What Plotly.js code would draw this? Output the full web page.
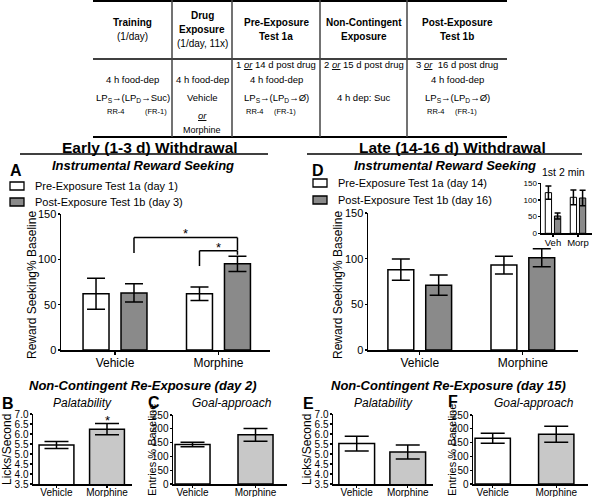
<!DOCTYPE html>
<html>
<head>
<meta charset="utf-8">
<script src="https://cdn.plot.ly/plotly-3.0.1.min.js"></script>
<style>html,body{margin:0;padding:0;background:#fff;}#chart{width:600px;height:497px;}</style>
</head>
<body>
<div id="chart"></div>
<script>
// ---------------- DATA ----------------
const groups = ['Vehicle', 'Morphine'];
const earlyPre = [62, 62];
const earlyPreErr = [17, 7.5];
const earlyPost = [63, 95];
const earlyPostErr = [10, 8.5];
const latePre = [88, 93];
const latePreErr = [11.5, 9.7];
const latePost = [71, 101];
const latePostErr = [11, 9.8];
const insetCats = ['Veh', 'Morp'];
const insetPre = [122, 108];
const insetPreErr = [20, 22];
const insetPost = [52, 106];
const insetPostErr = [9, 23];
const palEarly = [5.45, 6.24];
const palEarlyErr = [0.17, 0.28];
const goalEarly = [143, 178];
const goalEarlyErr = [8, 23];
const palLate = [5.52, 5.1];
const palLateErr = [0.37, 0.35];
const goalLate = [166, 180];
const goalLateErr = [18, 29];
// significance bracket levels (data units, panel A)
const sigBigY = [107, 124, 110];
const sigSmallY = [92.6, 109.5, 105];

// ---------------- LAYOUT HELPERS ----------------
const W = 600, H = 497;
const FONT = 'Liberation Sans, Arial, sans-serif';
const px = x => x / W;
const py = y => 1 - y / H;
const dx = (a, b) => [px(a), px(b)];
const dy = (top, bottom) => [py(bottom), py(top)];

const WHITE = '#ffffff', DARK = '#8a8a8a', LIGHT = '#c8c8c8';
const BARGAP = 0.266, BARGROUPGAP = 0.316;
const OFF = (1 - BARGAP) / 4; // centre offset of each bar in a 2-trace group

function xax(domain, range, fs, extra) {
  return Object.assign({
    domain: domain, range: range, type: 'category', showline: true, linecolor: '#000', linewidth: 1.5,
    ticks: 'outside', ticklen: 3, tickwidth: 1.2, tickcolor: '#000', showgrid: false, zeroline: false,
    tickfont: {family: FONT, size: fs, color: '#000'}, fixedrange: true
  }, extra || {});
}
function yax(domain, range, dtick, fs, extra) {
  return Object.assign({
    domain: domain, range: range, dtick: dtick, tick0: range[0], showline: true, linecolor: '#000', linewidth: 1.5,
    ticks: 'outside', ticklen: 2, tickwidth: 1.2, tickcolor: '#000', showgrid: false, zeroline: false,
    ticklabelstandoff: -1,
    tickfont: {family: FONT, size: fs, color: '#000'}, fixedrange: true
  }, extra || {});
}
function bar(x, y, err, color, xa, ya, errW, lw) {
  return {
    type: 'bar', x: x, y: y, xaxis: xa, yaxis: ya,
    marker: {color: color, line: {color: '#000', width: lw || 1.5}},
    error_y: {type: 'data', array: err, visible: true, color: '#000', thickness: 1.5, width: errW},
    showlegend: false, hoverinfo: 'skip'
  };
}
function single(x, y, err, xa, ya, width) {
  const t = bar(x, y, err, [WHITE, LIGHT], xa, ya, 12);
  t.width = width;
  return t;
}

const traces = [
  bar(groups, earlyPre, earlyPreErr, WHITE, 'x', 'y', 9),
  bar(groups, earlyPost, earlyPostErr, DARK, 'x', 'y', 9),
  bar(groups, latePre, latePreErr, WHITE, 'x2', 'y2', 9),
  bar(groups, latePost, latePostErr, DARK, 'x2', 'y2', 9),
  bar(insetCats, insetPre, insetPreErr, WHITE, 'x3', 'y3', 3, 1),
  bar(insetCats, insetPost, insetPostErr, DARK, 'x3', 'y3', 3, 1),
  single(groups, palEarly, palEarlyErr, 'x4', 'y4', 0.69),
  single(groups, goalEarly, goalEarlyErr, 'x5', 'y5', 0.556),
  single(groups, palLate, palLateErr, 'x6', 'y6', 0.7),
  single(groups, goalLate, goalLateErr, 'x7', 'y7', 0.556)
];

// ---------------- ANNOTATIONS ----------------
const ann = [];
function txt(x, y, text, size, opts) {
  ann.push(Object.assign({
    xref: 'paper', yref: 'paper', x: px(x), y: py(y), text: text, showarrow: false,
    xanchor: 'center', yanchor: 'middle', font: {family: FONT, size: size, color: '#000'}
  }, opts || {}));
}
// table header
const c1 = 132.5, c2 = 202, c3 = 276, c4 = 363.5, c5 = 457;
txt(c1, 23, '<b>Training</b>', 10); txt(c1, 36, '(1/day)', 10);
txt(c2, 16, '<b>Drug</b>', 10); txt(c2, 29, '<b>Exposure</b>', 10); txt(c2, 43, '(1/day, 11x)', 10);
txt(c3, 23, '<b>Pre-Exposure</b>', 10); txt(c3, 36, '<b>Test 1a</b>', 10);
txt(c4, 23, '<b>Non-Contingent</b>', 10); txt(c4, 36, '<b>Exposure</b>', 10);
txt(c5, 23, '<b>Post-Exposure</b>', 10); txt(c5, 36, '<b>Test 1b</b>', 10);
// table body
txt(c3, 65, '1 <i><u>or</u></i> 14 d post drug', 9.5);
txt(c4, 65, '2 <i><u>or</u></i> 15 d post drug', 9.5);
txt(c5, 65, '3 <i><u>or</u></i>  16 d post drug', 9.5);
txt(c1, 80, '4 h food-dep', 9.5); txt(c2, 80, '4 h food-dep', 9.5);
txt(c3, 80, '4 h food-dep', 9.5); txt(c5, 80, '4 h food-dep', 9.5);
txt(c1, 98, 'LP<sub>S</sub>\u2192(LP<sub>D</sub>\u2192Suc)', 9.5);
txt(c2, 98, 'Vehicle', 9.5);
txt(c3, 98, 'LP<sub>S</sub>\u2192(LP<sub>D</sub>\u2192\u00d8)', 9.5);
txt(c4, 98, '4 h dep: Suc', 9.5);
txt(c5, 98, 'LP<sub>S</sub>\u2192(LP<sub>D</sub>\u2192\u00d8)', 9.5);
txt(115.5, 111, 'RR-4', 7.5); txt(156.5, 111, '(FR-1)', 7.5);
txt(255, 111, 'RR-4', 7.5); txt(285, 111, '(FR-1)', 7.5);
txt(436, 111, 'RR-4', 7.5); txt(466, 111, '(FR-1)', 7.5);
txt(c2, 116, '<i><u>or</u></i>', 9.5);
txt(c2, 130, 'Morphine', 9);
// section titles
txt(150, 147, '<b>Early (1-3 d) Withdrawal</b>', 15.5);
txt(452, 147, '<b>Late (14-16 d) Withdrawal</b>', 15.5);
txt(143, 165, '<b><i>Instrumental Reward Seeking</i></b>', 13);
txt(445, 165, '<b><i>Instrumental Reward Seeking</i></b>', 13);
txt(16, 170, '<b>A</b>', 16); txt(318, 170, '<b>D</b>', 16);
// legends
txt(33, 186, 'Pre-Exposure Test 1a (day 1)', 11, {xanchor: 'left'});
txt(33, 202, 'Post-Exposure Test 1b (day 3)', 11, {xanchor: 'left'});
txt(336, 183, 'Pre-Exposure Test 1a (day 14)', 11, {xanchor: 'left'});
txt(336, 200, 'Post-Exposure Test 1b (day 16)', 11, {xanchor: 'left'});
txt(563, 172, '1st 2 min', 10.5);
// y titles
txt(32, 285, 'Reward Seeking% Baseline', 12, {textangle: -90});
txt(338, 285, 'Reward Seeking% Baseline', 12, {textangle: -90});
txt(7, 450, 'Licks/Second', 12, {textangle: -90});
txt(152, 450, 'Entries % Baseline', 11, {textangle: -90});
txt(307, 450, 'Licks/Second', 12, {textangle: -90});
txt(452, 450, 'Entries % Baseline', 11, {textangle: -90});
// lower section
txt(143, 385, '<b><i>Non-Contingent Re-Exposure (day 2)</i></b>', 13);
txt(448, 385, '<b><i>Non-Contingent Re-Exposure (day 15)</i></b>', 13);
txt(8, 403, '<b>B</b>', 16); txt(154, 402, '<b>C</b>', 16);
txt(308, 403, '<b>E</b>', 16); txt(453, 401, '<b>F</b>', 16);
txt(82, 403, '<i>Palatability</i>', 12); txt(232, 403, '<i>Goal-approach</i>', 12);
txt(383, 403, '<i>Palatability</i>', 12); txt(534, 403, '<i>Goal-approach</i>', 12);
// significance stars (data coords)
function star(xa, ya, x, y) {
  ann.push({xref: xa, yref: ya, x: x, y: y, text: '*', showarrow: false, xanchor: 'center', yanchor: 'middle',
            font: {family: FONT, size: 13, color: '#000'}});
}
star('x', 'y', 0.5 + OFF, sigBigY[1] + 4.5);
star('x', 'y', 1, sigSmallY[1] + 3.5);
star('x3', 'y3', 0, 155);
star('x4', 'y4', 1, palEarly[1] + palEarlyErr[1] + 0.14);

// ---------------- SHAPES ----------------
const shapes = [];
function pline(x0, y0, x1, y1, w, c) {
  shapes.push({type: 'line', xref: 'paper', yref: 'paper', x0: px(x0), y0: py(y0), x1: px(x1), y1: py(y1),
               line: {color: c || '#000', width: w}});
}
function dline(xa, ya, x0, y0, x1, y1) {
  shapes.push({type: 'line', xref: xa, yref: ya, x0: x0, y0: y0, x1: x1, y1: y1, line: {color: '#000', width: 1.5}});
}
function prect(x0, y0, x1, y1, fill) {
  shapes.push({type: 'rect', xref: 'paper', yref: 'paper', x0: px(x0), y0: py(y0), x1: px(x1), y1: py(y1),
               fillcolor: fill, line: {color: '#000', width: 1.3}});
}
// table
pline(93, 1, 507, 1, 2);
pline(93, 59, 507, 59, 1.5);
pline(93, 137, 507, 137, 2);
[172, 232, 320, 407].forEach(x => pline(x, 0, x, 137, 1.5, '#444'));
// section underlines
pline(20, 154, 268, 154, 1.5);
pline(307, 154, 582, 154, 1.5);
// legend boxes
prect(10, 182, 24, 190, WHITE); prect(10, 198, 24, 206, DARK);
prect(313, 179, 327, 187, WHITE); prect(313, 196, 327, 204, DARK);
// brackets (panel A)
dline('x', 'y', 0 + OFF, sigBigY[0], 0 + OFF, sigBigY[1]);
dline('x', 'y', 0 + OFF, sigBigY[1], 1 + OFF, sigBigY[1]);
dline('x', 'y', 1 + OFF, sigBigY[1], 1 + OFF, sigBigY[2]);
dline('x', 'y', 1 - OFF, sigSmallY[0], 1 - OFF, sigSmallY[1]);
dline('x', 'y', 1 - OFF, sigSmallY[1], 1 + OFF, sigSmallY[1]);
dline('x', 'y', 1 + OFF, sigSmallY[1], 1 + OFF, sigSmallY[2]);

const smallX = {ticklen: 2, ticklabelstandoff: -4};
const layout = {
  width: W, height: H, margin: {l: 0, r: 0, t: 0, b: 0}, paper_bgcolor: '#fff', plot_bgcolor: 'rgba(0,0,0,0)',
  font: {family: FONT, color: '#000'}, showlegend: false,
  barmode: 'group', bargap: BARGAP, bargroupgap: BARGROUPGAP,
  xaxis: xax(dx(61, 270), [-0.522, 1.498], 12, {ticklabelstandoff: -2}),
  yaxis: yax(dy(214, 350), [0, 150], 50, 11),
  xaxis2: xax(dx(368, 578), [-0.502, 1.535], 12, {ticklabelstandoff: -2}),
  yaxis2: yax(dy(213, 350), [0, 150], 50, 11),
  xaxis3: xax(dx(541, 592), [-0.48, 1.56], 9.5, {ticklen: 2, ticklabelstandoff: -2}),
  yaxis3: yax(dy(183.3, 233.3), [0, 150], 50, 8),
  xaxis4: xax(dx(33, 132), [-0.465, 1.495], 10, smallX),
  yaxis4: yax(dy(414, 484), [3.5, 7.0], 0.5, 10, {tickformat: '.1f'}),
  xaxis5: xax(dx(173, 287), [-0.31, 1.5], 10, smallX),
  yaxis5: yax(dy(415, 484), [0, 250], 50, 10),
  xaxis6: xax(dx(333, 433), [-0.465, 1.495], 10, smallX),
  yaxis6: yax(dy(414, 484), [3.5, 7.0], 0.5, 10, {tickformat: '.1f'}),
  xaxis7: xax(dx(473, 588), [-0.31, 1.5], 10, smallX),
  yaxis7: yax(dy(415, 484), [0, 250], 50, 10),
  annotations: ann, shapes: shapes
};
// anchor each axis pair
for (let i = 2; i <= 7; i++) {
  layout['xaxis' + i].anchor = 'y' + i;
  layout['yaxis' + i].anchor = 'x' + i;
}
layout.xaxis.anchor = 'y'; layout.yaxis.anchor = 'x';

Plotly.newPlot('chart', traces, layout, {staticPlot: true, displayModeBar: false});
</script>
</body>
</html>
